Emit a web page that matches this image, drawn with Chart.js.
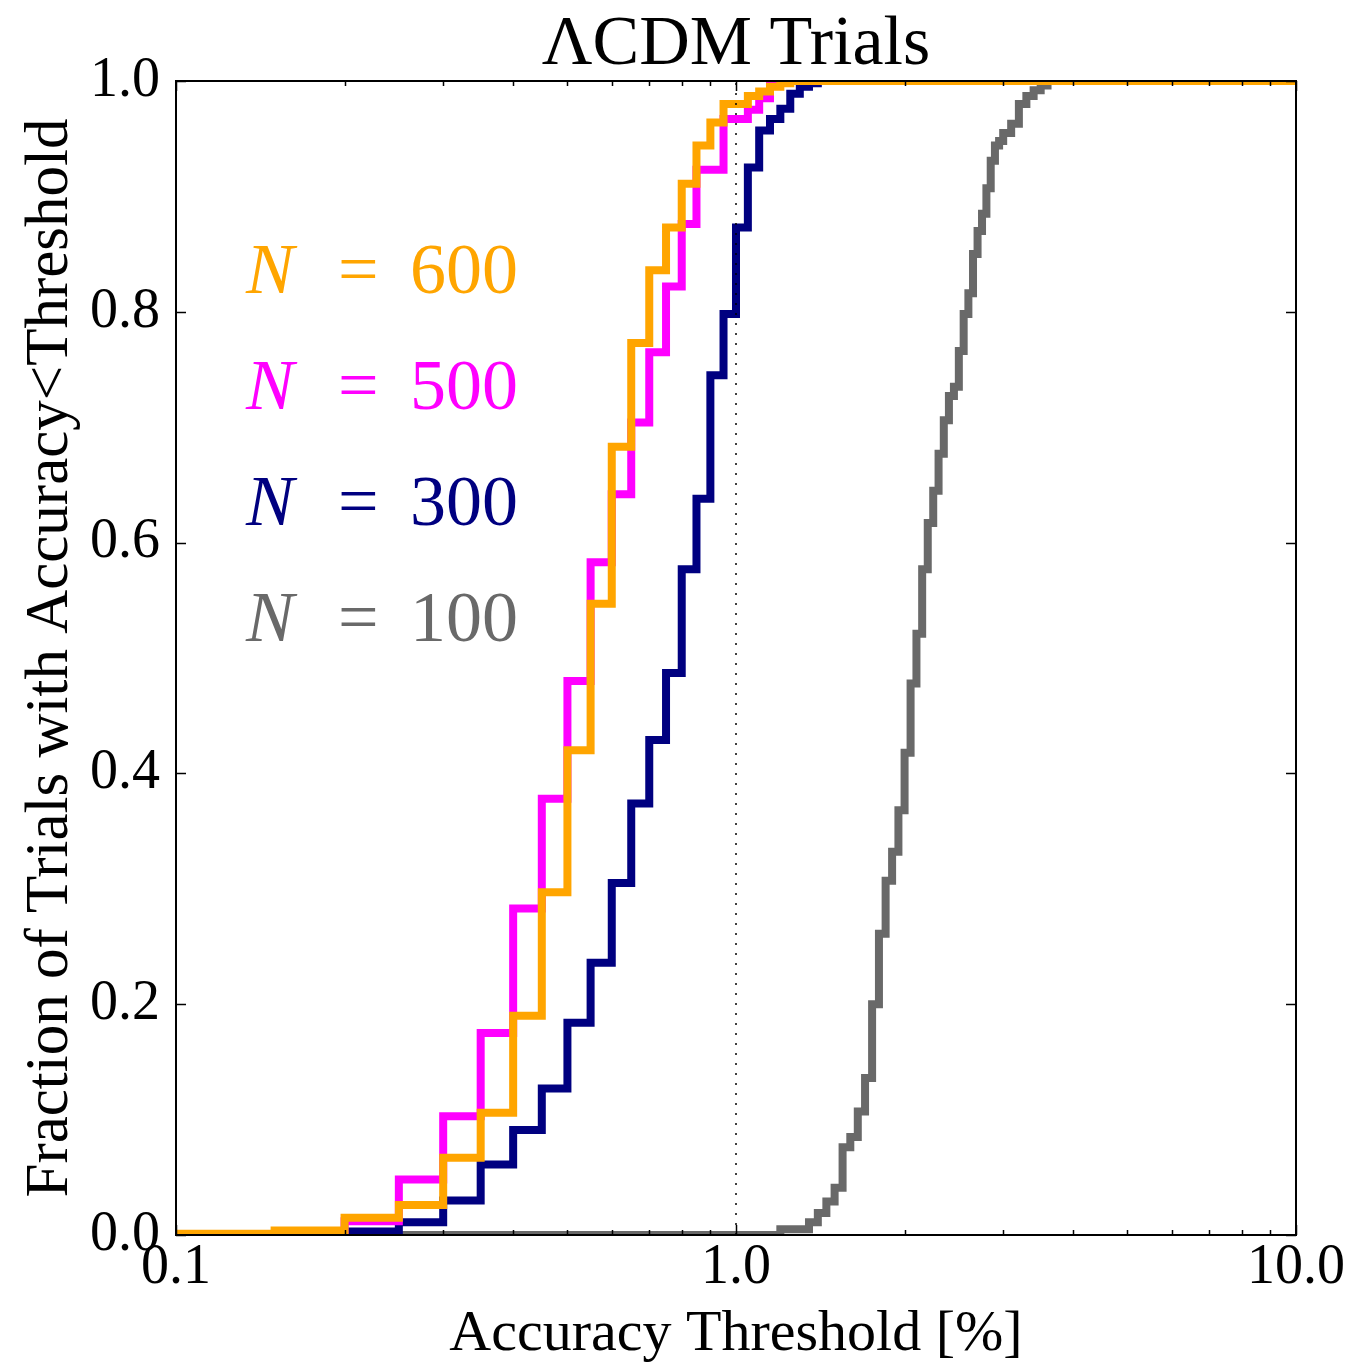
<!DOCTYPE html>
<html>
<head>
<meta charset="utf-8">
<script src="https://cdn.jsdelivr.net/npm/chart.js@4/dist/chart.umd.min.js"></script>
<style>
  html, body { margin: 0; padding: 0; background: #fff; }
  canvas { display: block; }
</style>
</head>
<body>
<canvas id="cdf" width="1351" height="1367"></canvas>
<script>
// step edges (accuracy threshold, %) and cumulative fraction of trials
const n600X = [0.1, 0.15, 0.2, 0.25, 0.3, 0.35, 0.4, 0.45, 0.5, 0.55, 0.6, 0.65, 0.7, 0.75, 0.8, 0.85, 0.9, 0.95, 1.05, 1.1, 1.15, 1.2, 1.25, 10];
const n600Y = [0.001, 0.004, 0.015, 0.026, 0.067, 0.106, 0.19, 0.297, 0.42, 0.547, 0.683, 0.773, 0.836, 0.873, 0.911, 0.944, 0.964, 0.98, 0.987, 0.991, 0.995, 0.998, 1, 1];

const n500X = [0.1, 0.2, 0.25, 0.3, 0.35, 0.4, 0.45, 0.5, 0.55, 0.6, 0.65, 0.7, 0.75, 0.8, 0.85, 0.95, 1.05, 1.1, 1.15, 10];
const n500Y = [0, 0.012, 0.048, 0.103, 0.175, 0.283, 0.378, 0.48, 0.583, 0.642, 0.704, 0.765, 0.822, 0.876, 0.923, 0.967, 0.975, 0.985, 1, 1];

const n300X = [0.1, 0.2, 0.25, 0.3, 0.35, 0.4, 0.45, 0.5, 0.55, 0.6, 0.65, 0.7, 0.75, 0.8, 0.85, 0.9, 0.95, 1.0, 1.05, 1.1, 1.15, 1.2, 1.25, 1.3, 1.35, 1.4, 10];
const n300Y = [0, 0.003, 0.011, 0.03, 0.061, 0.091, 0.127, 0.184, 0.236, 0.305, 0.374, 0.429, 0.487, 0.577, 0.638, 0.745, 0.798, 0.873, 0.925, 0.957, 0.967, 0.976, 0.989, 0.995, 0.998, 1, 1];

const n100X = [0.1, 1.2, 1.35, 1.4, 1.45, 1.5, 1.55, 1.6, 1.65, 1.7, 1.75, 1.8, 1.85, 1.9, 1.95, 2.0, 2.05, 2.1, 2.15, 2.2, 2.25, 2.3, 2.35, 2.4, 2.45, 2.5, 2.55, 2.6, 2.65, 2.7, 2.75, 2.8, 2.85, 2.9, 2.95, 3.0, 3.1, 3.2, 3.3, 3.4, 3.5, 3.6, 10];
const n100Y = [0, 0.005, 0.011, 0.019, 0.029, 0.041, 0.076, 0.085, 0.107, 0.136, 0.2, 0.261, 0.307, 0.332, 0.368, 0.418, 0.478, 0.521, 0.577, 0.617, 0.645, 0.677, 0.706, 0.727, 0.735, 0.766, 0.798, 0.816, 0.85, 0.87, 0.885, 0.907, 0.931, 0.944, 0.948, 0.955, 0.963, 0.98, 0.987, 0.992, 0.996, 1, 1];

// 1% reference line
const refX = [1, 1];
const refY = [0, 1];

const seriesNames = ['600', '500', '300', '100'];
const seriesColors = ['#FFA500', '#FF00FF', '#000080', '#696969'];

const xMajor = [0.1, 1, 10];
const xMajorLabels = ['0.1', '1.0', '10.0'];
const xMinor = [0.2, 0.3, 0.4, 0.5, 0.6, 0.7, 0.8, 0.9, 2, 3, 4, 5, 6, 7, 8, 9];
const yMajor = [0, 0.2, 0.4, 0.6, 0.8, 1.0];

const SERIF = "'Liberation Serif', 'DejaVu Serif', serif";

function pts(xs, ys) {
  return xs.map((x, i) => ({ x, y: ys[i] }));
}

function stepSet(name, color, xs, ys) {
  return {
    label: 'N = ' + name,
    data: pts(xs, ys),
    borderColor: color,
    backgroundColor: color,
    borderWidth: 8,
    stepped: 'before', // hold y_i until x_(i+1), then rise
    pointRadius: 0,
    fill: false,
    clip: 0
  };
}

// inward ticks on all four sides + box, like the classic matplotlib frame
const axesFrame = {
  id: 'axesFrame',
  afterDatasetsDraw(chart) {
    const { ctx, chartArea: a, scales: { x, y } } = chart;
    ctx.save();
    ctx.strokeStyle = '#000';
    ctx.lineWidth = 1.5;
    const tickX = (v, len) => {
      const px = Math.round(x.getPixelForValue(v)) + 0.5;
      ctx.beginPath();
      ctx.moveTo(px, a.bottom); ctx.lineTo(px, a.bottom - len);
      ctx.moveTo(px, a.top); ctx.lineTo(px, a.top + len);
      ctx.stroke();
    };
    const tickY = (v, len) => {
      const py = Math.round(y.getPixelForValue(v)) + 0.5;
      ctx.beginPath();
      ctx.moveTo(a.left, py); ctx.lineTo(a.left + len, py);
      ctx.moveTo(a.right, py); ctx.lineTo(a.right - len, py);
      ctx.stroke();
    };
    xMajor.forEach(v => tickX(v, 10));
    xMinor.forEach(v => tickX(v, 5));
    yMajor.forEach(v => tickY(v, 10));
    ctx.lineWidth = 2;
    ctx.strokeRect(a.left, a.top, a.width, a.height);
    ctx.restore();
  }
};

// coloured "N = ..." labels in the upper left of the axes
const textLegend = {
  id: 'textLegend',
  afterDraw(chart) {
    const { ctx } = chart;
    ctx.save();
    ctx.textBaseline = 'alphabetic';
    ctx.textAlign = 'left';
    seriesNames.forEach((n, i) => {
      const base = 293 + i * 116;
      ctx.fillStyle = seriesColors[i];
      ctx.font = 'italic 72px ' + SERIF;
      ctx.fillText('N', 246, base);
      ctx.font = '72px ' + SERIF;
      ctx.fillText('=', 338, base);
      ctx.fillText(n, 410, base);
    });
    ctx.restore();
  }
};

const datasets = [
  {
    label: '',
    data: pts(refX, refY),
    borderColor: '#000',
    borderWidth: 1.5,
    borderDash: [2, 8],
    pointRadius: 0,
    fill: false,
    clip: 0
  },
  stepSet(seriesNames[0], seriesColors[0], n600X, n600Y),
  stepSet(seriesNames[1], seriesColors[1], n500X, n500Y),
  stepSet(seriesNames[2], seriesColors[2], n300X, n300Y),
  stepSet(seriesNames[3], seriesColors[3], n100X, n100Y)
];

new Chart(document.getElementById('cdf'), {
  type: 'line',
  data: { datasets },
  options: {
    responsive: false,
    animation: false,
    layout: { padding: { left: 0, right: 55, top: 0, bottom: 0 } },
    plugins: {
      legend: { display: false },
      tooltip: { enabled: false },
      title: {
        display: true,
        text: '\u039BCDM Trials',
        color: '#000',
        fullSize: false,
        font: { family: SERIF, size: 70, weight: 'normal', lineHeight: 1.0 },
        padding: { top: 11, bottom: 0 }
      }
    },
    scales: {
      x: {
        type: 'logarithmic',
        min: 0.1,
        max: 10,
        grid: { display: false, drawTicks: false },
        border: { display: false },
        afterBuildTicks: s => { s.ticks = xMajor.map(v => ({ value: v, major: true })); },
        afterFit: s => { s.height = 132; },
        ticks: {
          autoSkip: false,
          maxRotation: 0,
          padding: 0,
          color: '#000',
          font: { family: SERIF, size: 56 },
          callback: (v) => {
            const i = xMajor.findIndex(m => Math.abs(m - v) < 1e-9);
            return i >= 0 ? xMajorLabels[i] : '';
          }
        },
        title: {
          display: true,
          text: 'Accuracy Threshold [%]',
          color: '#000',
          font: { family: SERIF, size: 58, lineHeight: 1.1 },
          padding: { top: 0, bottom: 0 }
        }
      },
      y: {
        type: 'linear',
        min: 0,
        max: 1,
        grid: { display: false, drawTicks: false },
        border: { display: false },
        afterBuildTicks: s => { s.ticks = yMajor.map(v => ({ value: v })); },
        afterFit: s => { s.width = 176; },
        ticks: {
          autoSkip: false,
          padding: 16,
          color: '#000',
          font: { family: SERIF, size: 56 },
          callback: v => Number(v).toFixed(1)
        },
        title: {
          display: true,
          text: 'Fraction of Trials with Accuracy<Threshold',
          color: '#000',
          font: { family: SERIF, size: 61, lineHeight: 1.2 },
          padding: { top: 14, bottom: 0 }
        }
      }
    }
  },
  plugins: [axesFrame, textLegend]
});
</script>
</body>
</html>
